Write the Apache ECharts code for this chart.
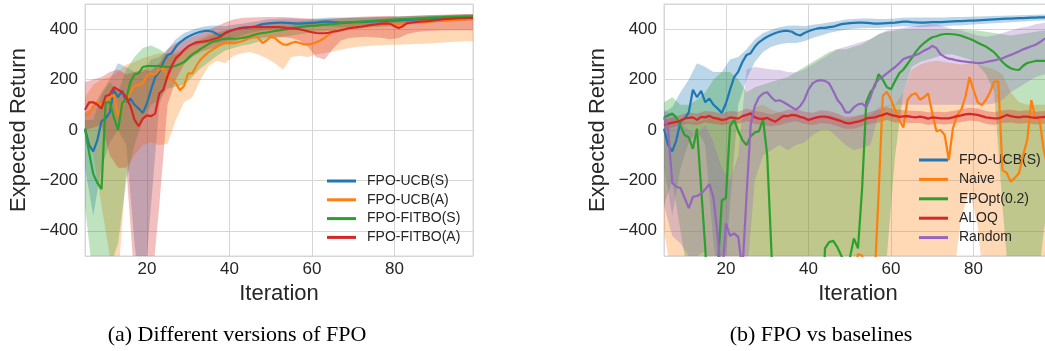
<!DOCTYPE html>
<html>
<head>
<meta charset="utf-8">
<script src="https://cdn.jsdelivr.net/npm/echarts@6/dist/echarts.min.js"></script>
<style>
  html, body { margin: 0; padding: 0; background: #fff; overflow: hidden; }
  /* wider than the window: the right panel runs past the page edge, as in the source figure */
  #chart { width: 1060px; height: 351px; }
</style>
</head>
<body>
<div id="chart"></div>
<script>
// iteration grid: lines every iteration, bands every 2 iterations
const iters = [];
for (let i = 5; i <= 99; i++) iters.push(i);
const bandIters = [];
for (let i = 5; i <= 99; i += 2) bandIters.push(i);

const xTicks = [20, 40, 60, 80];
const yTicks = [-400, -200, 0, 200, 400];

// ---- (a) Different versions of FPO ----
const ucbS = [
  5, -60, -85, -40, 35, 45, 70, 160, 130, 155,
  110, 125, 100, 85, 68, 105, 160, 210, 232, 270,
  298, 305, 330, 348, 360, 370, 378, 385, 390, 393,
  393, 390, 380, 375, 385, 392, 398, 402, 405, 405,
  408, 410, 415, 420, 422, 424, 425, 426, 426, 425,
  424, 422, 422, 423, 424, 425, 426, 428, 430, 430,
  428, 427, 426, 426, 427, 428, 428, 428, 429, 430,
  431, 432, 432, 433, 434, 434, 435, 436, 437, 438,
  439, 440, 441, 442, 442, 443, 444, 444, 445, 446,
  446, 447, 447, 448, 448
];
const ucbA = [
  55, 65, 95, 110, 100, 115, 130, 140, 55, 95,
  120, 150, 175, 180, 185, 215, 225, 220, 240, 245,
  210, 200, 185, 158, 175, 225, 225, 255, 280, 295,
  310, 320, 330, 340, 345, 345, 345, 348, 352, 358,
  368, 375, 365, 345, 355, 370, 365, 350, 340, 338,
  345, 350, 345, 340, 340, 342, 348, 355, 365, 378,
  390, 396, 398, 400, 404, 408, 410, 412, 414, 416,
  418, 420, 420, 420, 420, 420, 421, 422, 424, 426,
  427, 428, 429, 430, 431, 433, 434, 435, 436, 437,
  438, 438, 439, 440, 440
];
const fitS = [
  5, -90, -175, -210, -235, 110, 110, 50, 0, 105,
  125, 190, 220, 225, 250, 254, 254, 254, 254, 252,
  250, 250, 255, 262, 270, 285, 300, 310, 322, 332,
  342, 350, 355, 360, 362, 363, 362, 363, 365, 368,
  372, 378, 382, 385, 387, 390, 393, 395, 398, 400,
  403, 406, 408, 410, 412, 413, 414, 416, 418, 419,
  420, 422, 424, 425, 426, 428, 429, 430, 431, 432,
  433, 434, 435, 436, 437, 438, 439, 440, 440, 441,
  442, 443, 444, 445, 446, 447, 447, 448, 449, 449,
  450, 450, 451, 451, 451
];
const fitA = [
  80, 110, 110, 100, 85, 135, 140, 170, 160, 150,
  130, 95, 40, 15, 45, 58, 55, 65, 145, 160,
  215, 255, 285, 300, 318, 332, 340, 348, 350, 352,
  355, 360, 365, 372, 385, 393, 398, 402, 405, 407,
  408, 408, 409, 408, 408, 408, 408, 408, 406, 404,
  403, 402, 400, 396, 392, 388, 385, 384, 384, 386,
  390, 392, 396, 400, 404, 406, 408, 410, 413, 416,
  418, 420, 422, 423, 421, 412, 405, 412, 424, 426,
  428, 430, 431, 432, 434, 436, 438, 440, 441, 442,
  443, 444, 444, 445, 445
];

// shaded spread (lower / upper), every 2 iterations
const ucbSLo = [
  -150, -340, -150, -50, 0, -60, -450, -700,
  -300, 100, 200, 270, 310, 330, 340, 345,
  345, 352, 365, 375, 385, 392, 398, 402,
  404, 405, 405, 408, 410, 412, 410, 408,
  410, 412, 412, 415, 415, 418, 420, 422,
  424, 426, 428, 430, 432, 434, 435, 436
];
const ucbSHi = [
  70, 90, 150, 200, 265, 250, 230, 230,
  280, 290, 320, 360, 385, 398, 408, 414,
  415, 412, 418, 422, 428, 432, 438, 440,
  442, 442, 440, 440, 442, 445, 446, 446,
  446, 446, 446, 448, 448, 449, 450, 451,
  452, 453, 454, 455, 456, 457, 458, 458
];
const ucbALo = [
  -50, -100, -300, -500, -600, -150, -100, -60,
  -50, -60, -55, 40, 110, 130, 200, 255,
  275, 265, 295, 305, 310, 300, 285, 265,
  240, 290, 295, 290, 300, 305, 312, 318,
  325, 330, 332, 335, 336, 338, 338, 340,
  341, 342, 344, 346, 348, 350, 352, 352
];
const ucbAHi = [
  130, 180, 200, 210, 230, 260, 270, 285,
  295, 305, 300, 310, 320, 345, 365, 380,
  390, 398, 402, 405, 410, 412, 412, 415,
  415, 415, 418, 420, 422, 425, 428, 430,
  432, 434, 436, 438, 440, 441, 442, 443,
  444, 445, 446, 447, 448, 449, 450, 450
];
const fitSLo = [
  -300, -600, -650, -550, -450, -200, -60, 40,
  100, 120, 165, 172, 180, 210, 245, 270,
  295, 315, 325, 335, 340, 350, 360, 365,
  370, 375, 380, 385, 390, 392, 395, 398,
  400, 402, 405, 408, 410, 412, 415, 418,
  420, 422, 425, 428, 430, 432, 434, 436
];
const fitSHi = [
  40, 40, 140, 190, 150, 240, 290, 325,
  335, 320, 300, 300, 315, 330, 355, 372,
  385, 395, 400, 405, 410, 415, 420, 425,
  428, 430, 432, 434, 436, 438, 440, 442,
  444, 445, 446, 447, 448, 449, 450, 451,
  452, 453, 454, 455, 456, 457, 458, 460
];
const fitALo = [
  0, 10, 20, -100, -150, -150, -600, -700,
  -650, -300, 100, 200, 260, 290, 310, 320,
  330, 340, 350, 360, 360, 365, 368, 370,
  368, 365, 355, 330, 290, 280, 320, 355,
  365, 368, 370, 368, 365, 360, 365, 380,
  388, 392, 394, 395, 396, 396, 396, 396
];
const fitAHi = [
  190, 200, 210, 230, 240, 220, 230, 240,
  235, 265, 320, 345, 355, 370, 385, 400,
  412, 428, 438, 444, 446, 447, 448, 448,
  448, 446, 444, 442, 440, 440, 442, 444,
  446, 448, 450, 451, 452, 452, 450, 452,
  454, 455, 456, 457, 458, 459, 460, 460
];

// ---- (b) FPO vs baselines ----
const naive = [
  -900, -900, -900, -900, -900, -900, -900, -900, -900, -900,
  -900, -900, -900, -900, -900, -900, -900, -900, -900, -900,
  -900, -900, -900, -900, -900, -900, -900, -900, -900, -900,
  -900, -900, -900, -900, -900, -900, -900, -900, -900, -900,
  -900, -900, -900, -900, -900, -700, -560, -492, -498, -620,
  -750, -600, -250, 135, 152, 120, 80, 40, 10, 120,
  140, 146, 120, 130, 146, 66, -5, 0, -20, -119,
  7, 60, 80, 130, 210, 159, 110, 99, 120, 150,
  192, 192, -159, -170, -205, -190, -172, -100, -40, 119,
  46, 40, -80, -150, -250
];
const epopt = [
  50, 58, 65, 50, 15, -20, -30, -75, 5, -230,
  -470, -800, -900, -560, -280, -270, 15, 40, -5, -40,
  -60, -25, -10, -5, 42, -100, -470, -850, -900, -900,
  -900, -900, -900, -900, -900, -900, -900, -900, -900, -470,
  -445, -440, -465, -500, -540, -510, -430, -470, -230, 110,
  150, 170, 222, 200, 170, 162, 195, 225, 240, 262,
  285, 310, 330, 345, 358, 368, 372, 378, 381, 381,
  380, 378, 374, 368, 362, 355, 346, 338, 331, 320,
  308, 290, 270, 255, 245, 240, 238, 255, 266, 270,
  274, 274, 274, 273, 272
];
const aloq = [
  20, 25, 29, 32, 38, 46, 48, 50, 40, 52,
  50, 56, 48, 45, 40, 42, 50, 48, 45, 55,
  60, 66, 50, 45, 44, 48, 40, 33, 45, 56,
  55, 60, 58, 52, 48, 40, 45, 50, 53, 53,
  50, 45, 40, 35, 28, 26, 30, 33, 38, 46,
  48, 50, 55, 60, 66, 60, 56, 52, 54, 55,
  52, 50, 53, 50, 45, 50, 48, 46, 46, 46,
  50, 55, 58, 62, 64, 62, 60, 55, 50, 48,
  46, 46, 52, 60, 55, 52, 50, 53, 53, 50,
  48, 50, 52, 50, 50
];
const random = [
  50, 0, -210, -225, -230, -270, -310, -265, -262, -252,
  -235, -215, -270, -420, -600, -370, -420, -410, -425, -560,
  -260, 20, 95, 130, 145, 150, 130, 115, 118, 110,
  100, 90, 80, 95, 120, 160, 185, 195, 198, 195,
  185, 155, 120, 100, 70, 70, 90, 102, 105, 90,
  130, 180, 200, 212, 225, 238, 250, 265, 282, 288,
  292, 298, 305, 315, 322, 334, 325, 300, 290, 283,
  280, 276, 273, 271, 269, 267, 265, 266, 270, 273,
  276, 280, 285, 292, 298, 305, 312, 320, 326, 332,
  338, 348, 360, 366, 372
];

const naiveLo = [
  -400, -600, -800, -900, -900, -900, -900, -900,
  -900, -900, -900, -900, -900, -900, -900, -900,
  -900, -900, -900, -900, -900, -900, -900, -900,
  -900, -900, -900, -900, -900, -900, -900, -900,
  -900, -900, -900, -600, -350, -240, -380, -700,
  -900, -900, -900, -900, -900, -900, -900, -900
];
const naiveHi = [
  60, 50, 40, 30, 30, 40, 50, 40,
  30, 40, 60, 90, 100, 80, 70, 60,
  60, 50, 40, 50, 60, 50, 40, 50,
  60, 60, 90, 95, 100, 150, 240, 260,
  270, 275, 270, 265, 260, 265, 260, 250,
  240, 220, 150, 110, 100, 100, 100, 100
];
const epoptLo = [
  -300, -200, -400, -600, -700, -800, -900, -900,
  -900, -900, -900, -900, -900, -900, -900, -900,
  -900, -900, -900, -900, -900, -900, -900, -900,
  -900, -900, -900, -500, -100, 150, 250, 270,
  280, 290, 300, 300, 290, 280, 260, 220,
  150, -300, -700, -900, -900, -700, -400, -200
];
const epoptHi = [
  110, 130, 100, 100, 120, 150, 200, 230,
  230, 200, 150, 170, 180, 190, 200, 210,
  230, 250, 270, 290, 310, 320, 320, 330,
  340, 360, 380, 390, 395, 398, 400, 400,
  400, 400, 400, 400, 400, 398, 395, 390,
  385, 380, 375, 380, 385, 390, 395, 400
];
const aloqLo = [
  0, 10, 20, 25, 20, 30, 25, 20,
  25, 25, 35, 25, 20, 15, 20, 30,
  35, 25, 20, 28, 25, 15, 5, 5,
  15, 25, 30, 40, 30, 30, 28, 28,
  20, 25, 22, 25, 32, 38, 35, 25,
  20, 28, 30, 25, 28, 22, 25, 25
];
const aloqHi = [
  40, 50, 60, 70, 65, 75, 72, 65,
  75, 72, 85, 75, 70, 62, 70, 80,
  82, 72, 68, 78, 75, 65, 52, 55,
  62, 72, 80, 90, 82, 78, 76, 75,
  70, 72, 70, 75, 82, 88, 85, 75,
  70, 78, 80, 75, 78, 72, 75, 75
];
const randomLo = [
  -300, -420, -450, -500, -500, -480, -600, -800,
  -800, -800, -600, -200, -100, -80, -60, -80,
  -60, -50, -20, 0, 0, -30, -60, -80,
  -70, -60, 60, 90, 100, 100, 100, 100,
  100, 100, 100, 100, 100, 100, 100, 100,
  105, 120, 150, 170, 190, 210, 220, 230
];
const randomHi = [
  80, 60, 30, 0, -20, 20, -50, -150,
  -200, -100, 240, 250, 245, 240, 238, 230,
  228, 240, 260, 280, 300, 320, 330, 340,
  350, 360, 380, 395, 400, 405, 410, 415,
  420, 420, 410, 400, 395, 385, 375, 370,
  375, 385, 395, 405, 410, 420, 425, 430
];

const BLUE = '#1f77b4', ORANGE = '#ff7f0e', GREEN = '#2ca02c', RED = '#d62728', PURPLE = '#9467bd';
const TEXT = '#262626';
const GRIDC = '#d6d6d6';
const SANS = '"Liberation Sans", Arial, sans-serif';

const pairs = (xs, ys) => xs.map((x, i) => [x, ys[i]]);

function meanLine(name, g, ys, color) {
  return {
    name: name, type: 'line', xAxisIndex: g, yAxisIndex: g,
    data: pairs(iters, ys), symbol: 'none', z: 5,
    lineStyle: { color: color, width: 2.2 }, itemStyle: { color: color }
  };
}

// shaded band: one polygon through the (x, hi) points and back along (x, lo)
function band(g, lo, hi, color) {
  return {
    type: 'custom', xAxisIndex: g, yAxisIndex: g, silent: true, z: 2, clip: true,
    data: bandIters.map((x, i) => [x, lo[i], hi[i]]),
    renderItem: function (params, api) {
      if (params.dataIndex !== 0) return;
      const top = [], bottom = [];
      for (let i = 0; i < bandIters.length; i++) {
        top.push(api.coord([bandIters[i], hi[i]]));
        bottom.push(api.coord([bandIters[i], lo[i]]));
      }
      const cs = params.coordSys;
      return {
        type: 'polygon',
        shape: { points: top.concat(bottom.reverse()) },
        style: { fill: color, opacity: 0.3 },
        clipPath: { type: 'rect', shape: { x: cs.x, y: cs.y, width: cs.width, height: cs.height } }
      };
    }
  };
}

const fmtY = v => yTicks.indexOf(v) >= 0 ? String(v).replace('-', '\u2212') : '';
const fmtX = v => xTicks.indexOf(v) >= 0 ? String(v) : '';

function xAxis(g) {
  return {
    type: 'value', gridIndex: g, min: 5, max: 99, splitNumber: 5,
    axisLine: { show: false }, axisTick: { show: false },
    splitLine: { lineStyle: { color: GRIDC, width: 1 } },
    axisLabel: { formatter: fmtX, fontSize: 17, color: TEXT, fontFamily: SANS, margin: 5 },
    name: 'Iteration', nameLocation: 'middle', nameGap: 24,
    nameTextStyle: { fontSize: 22, color: TEXT, fontFamily: SANS }
  };
}
function yAxis(g) {
  return {
    type: 'value', gridIndex: g, min: -500, max: 500, splitNumber: 5,
    axisLine: { show: false }, axisTick: { show: false },
    splitLine: { lineStyle: { color: GRIDC, width: 1 } },
    axisLabel: { formatter: fmtY, fontSize: 17, color: TEXT, fontFamily: SANS, margin: 7 },
    name: 'Expected Return', nameLocation: 'middle', nameGap: 55,
    nameTextStyle: { fontSize: 22, color: TEXT, fontFamily: SANS }
  };
}

function legend(names, left, top, gap) {
  return {
    data: names, orient: 'vertical', left: left, top: top, padding: 0,
    icon: 'rect', itemWidth: 29, itemHeight: 3, itemGap: gap,
    textStyle: { fontSize: 14, color: TEXT, fontFamily: SANS, padding: [0, 0, 0, 6] }
  };
}

const chart = echarts.init(document.getElementById('chart'));
chart.setOption({
  animation: false,
  backgroundColor: '#fff',
  grid: [
    { left: 85, top: 4, width: 388, height: 252, show: true, borderColor: GRIDC, borderWidth: 1 },
    { left: 664, top: 4, width: 388, height: 252, show: true, borderColor: GRIDC, borderWidth: 1 }
  ],
  xAxis: [xAxis(0), xAxis(1)],
  yAxis: [yAxis(0), yAxis(1)],
  legend: [
    legend(['FPO-UCB(S)', 'FPO-UCB(A)', 'FPO-FITBO(S)', 'FPO-FITBO(A)'], 327, 174, 4.8),
    legend(['FPO-UCB(S)', 'Naive', 'EPOpt(0.2)', 'ALOQ', 'Random'], 919, 153, 5.4)
  ],
  series: [
    band(0, ucbSLo, ucbSHi, BLUE),
    band(0, ucbALo, ucbAHi, ORANGE),
    band(0, fitSLo, fitSHi, GREEN),
    band(0, fitALo, fitAHi, RED),
    band(1, ucbSLo, ucbSHi, BLUE),
    band(1, naiveLo, naiveHi, ORANGE),
    band(1, epoptLo, epoptHi, GREEN),
    band(1, aloqLo, aloqHi, RED),
    band(1, randomLo, randomHi, PURPLE),
    meanLine('FPO-UCB(S)', 0, ucbS, BLUE),
    meanLine('FPO-UCB(A)', 0, ucbA, ORANGE),
    meanLine('FPO-FITBO(S)', 0, fitS, GREEN),
    meanLine('FPO-FITBO(A)', 0, fitA, RED),
    meanLine('FPO-UCB(S)', 1, ucbS, BLUE),
    meanLine('Naive', 1, naive, ORANGE),
    meanLine('EPOpt(0.2)', 1, epopt, GREEN),
    meanLine('ALOQ', 1, aloq, RED),
    meanLine('Random', 1, random, PURPLE)
  ],
  graphic: [
    { type: 'text', style: { x: 237, y: 335, text: '(a) Different versions of FPO', textAlign: 'center', textVerticalAlign: 'middle', font: '22px "Liberation Serif", "Times New Roman", serif', fill: '#000' } },
    { type: 'text', style: { x: 821, y: 335, text: '(b) FPO vs baselines', textAlign: 'center', textVerticalAlign: 'middle', font: '22px "Liberation Serif", "Times New Roman", serif', fill: '#000' } }
  ]
});
</script>
</body>
</html>
